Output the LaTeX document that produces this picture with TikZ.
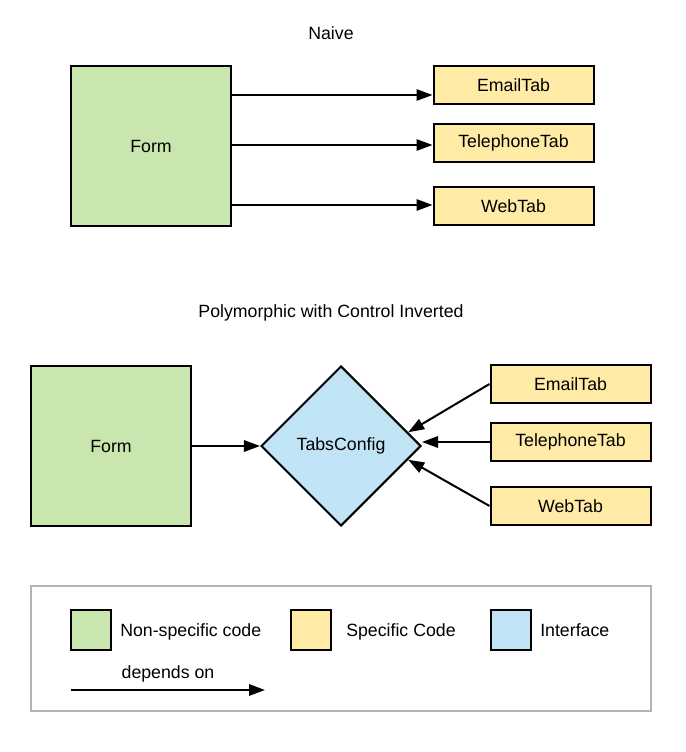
\documentclass[tikz,border=0pt]{standalone}
\usepackage{fontspec}
\setmainfont{Liberation Sans}
\usetikzlibrary{arrows.meta,positioning,shapes.geometric,calc}
\definecolor{nonspec}{HTML}{C8E6AD}
\definecolor{spec}{HTML}{FFEBA6}
\definecolor{ifc}{HTML}{C1E3F6}
\definecolor{framegray}{HTML}{B3B3B3}

\begin{document}
\begin{tikzpicture}[x=0.75pt,y=-0.75pt,font=\fontsize{13.3pt}{15pt}\selectfont,
  box/.style={draw=black,line width=1.5pt,inner sep=0pt},
  formbox/.style={box,fill=nonspec,minimum width=120pt,minimum height=120pt},
  tabbox/.style={box,fill=spec,minimum width=120pt,minimum height=28.5pt},
  cfgbox/.style={box,fill=ifc,diamond,aspect=1,minimum width=120pt,minimum height=120pt},
  swatch/.style={draw=black,line width=1.5pt,minimum size=30pt,inner sep=0pt},
  lab/.style={anchor=base west,inner sep=0pt},
  dep/.style={-{Triangle[length=12pt,width=8.5pt]},line width=1.5pt}]
\useasboundingbox (0,0) rectangle (685,752);
% naive
\node (t1) at (331,33) {Naive};
\node[formbox] (f1) at (151,146) {Form};
\foreach \y/\n/\t in {85/e1/EmailTab,143/p1/TelephoneTab,206/w1/WebTab}
  \node[tabbox] (\n) at (513.5,\y) {\t};
\coordinate (e1in) at ($(e1.west)+(0,10)$);
\coordinate (p1in) at ($(p1.west)+(0,2)$);
\coordinate (w1in) at ($(w1.west)+(0,-1)$);
\foreach \n in {e1in,p1in,w1in}
  \draw[dep] (f1.east |- \n) -- (\n);
% polymorphic
\node (t2) at (331,313) {Polymorphic with Control Inverted};
\node[formbox] (f2) at (111,446) {Form};
\node[cfgbox] (cfg) at (341,446) {TabsConfig};
\foreach \y/\n/\t in {384/e2/EmailTab,442/p2/TelephoneTab,506/w2/WebTab}
  \node[tabbox] (\n) at (570.5,\y) {\t};
\draw[dep] (f2) -- (cfg);
\draw[dep] (e2.west) -- ($(cfg.north)!0.83!(cfg.east)$);
\draw[dep] (p2.west) -- (cfg.east |- p2.west);
\draw[dep] (w2.west) -- ($(cfg.south)!0.83!(cfg.east)$);
% legend
\draw[framegray,line width=1.5pt] (31,586) rectangle (651,711);
\node[swatch,fill=nonspec] (s1) at (91,630) {};
\node[lab] (l1) at (120,636) {Non-specific code};
\node[swatch,fill=spec] (s2) at (311,630) {};
\node[lab] (l2) at (346,636) {Specific Code};
\node[swatch,fill=ifc] (s3) at (511,630) {};
\node[lab] (l3) at (540,636) {Interface};
\coordinate (d0) at (71,690);
\coordinate (d1) at (265,690);
\draw[dep] (d0) -- (d1);
\node (dl) at (168,674) {depends on};
\end{tikzpicture}
\end{document}
